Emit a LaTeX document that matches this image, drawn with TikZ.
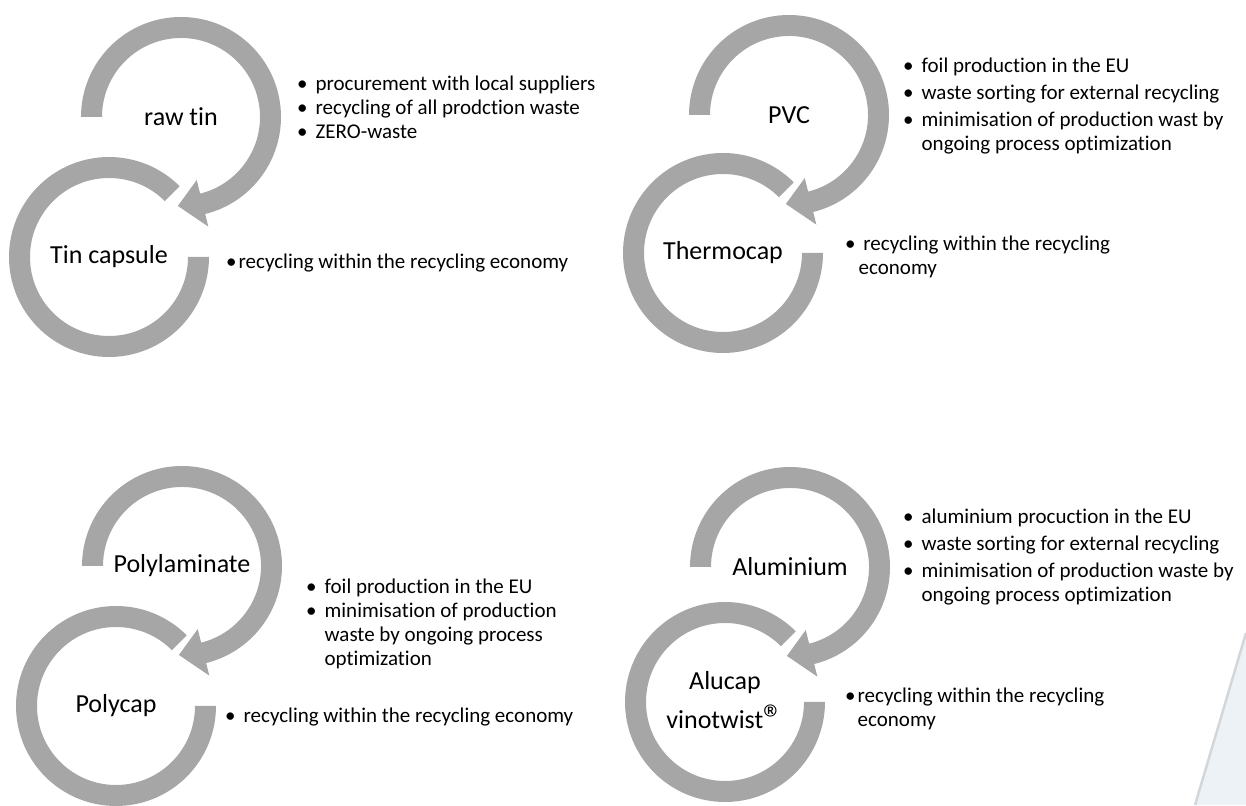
\documentclass[tikz,border=0pt]{standalone}
\usepackage{fontspec}
\setmainfont{Carlito}[Ligatures=NoCommon]
\usetikzlibrary{positioning}

\definecolor{ringgray}{HTML}{A6A6A6}
\definecolor{cornerblue}{HTML}{ECF2F6}
\definecolor{cornerline}{HTML}{D3D7DA}

% ring with arrow head around a label node
\newcommand{\toparc}[1]{%
  \fill[ring] ([shift={(180:100pt)}]#1.center) arc[start angle=180,end angle=-76,radius=100pt]
    -- ([shift={(-76:113pt)}]#1.center) -- ([shift={(-92:89pt)}]#1.center)
    -- ([shift={(-76:65pt)}]#1.center) -- ([shift={(-76:79pt)}]#1.center)
    arc[start angle=-76,end angle=180,radius=79pt] -- cycle;}
% open ring below
\newcommand{\bottomarc}[1]{%
  \fill[ring] ([shift={(45:100pt)}]#1.center) arc[start angle=45,end angle=360,radius=100pt]
    -- ([shift={(0:79pt)}]#1.center) arc[start angle=360,end angle=45,radius=79pt] -- cycle;}
\newcommand{\regmark}{\raisebox{-0.12em}{\fontsize{40}{40}\selectfont ®}}

\begin{document}
\begin{tikzpicture}[x=1pt,y=1pt,
    ring/.style={fill=ringgray},
    stage/.style={inner sep=0pt,align=center,font=\fontsize{26}{39}\selectfont},
    notes/.style={inner sep=0pt,anchor=base west,font=\fontsize{21}{24}\selectfont}]
  \useasboundingbox (0,0) rectangle (1246,805);

  % corner decoration
  \fill[cornerblue] (1246,172) -- (1195,0) -- (1246,0) -- cycle;
  \draw[cornerline,line width=2.5pt] (1246,172) -- (1195,0);

  % labels
  \node[stage] (rawtin) at (181,688) {raw tin};
  \node[stage] (tincap) at (109,548) {Tin capsule};
  \node[stage] (pvc) at (789,690) {PVC};
  \node[stage] (thermo) at (723,552) {Thermocap};
  \node[stage] (polylam) at (182,239) {Polylaminate};
  \node[stage] (polycap) at (116,99) {Polycap};
  \node[stage] (alu) at (790,238) {Aluminium};
  \node[stage] (alucap) at (725,103) {Alucap\\vinotwist\regmark};

  % rings
  \foreach \a/\b in {rawtin/tincap,pvc/thermo,polylam/polycap,alu/alucap}{
    \toparc{\a}
    \bottomarc{\b}
  }

  % notes
  \node[notes] (rawtinnotes) at (297,714) {\begin{tabular}[t]{@{}l@{\hspace{8pt}}l@{}}
    • & procurement with local suppliers\\
    • & recycling of all prodction waste\\
    • & ZERO-waste
  \end{tabular}};
  \node[notes] (tincapnotes) at (226,536) {•\hspace{2pt}recycling within the recycling economy};

  \node[notes] (pvcnotes) at (903,732) {\begin{tabular}[t]{@{}l@{\hspace{8pt}}l@{}}
    • & foil production in the EU\\[3pt]
    • & waste sorting for external recycling\\[3pt]
    • & minimisation of production wast by\\
      & ongoing process optimization
  \end{tabular}};
  \node[notes] (thermonotes) at (845,554) {\begin{tabular}[t]{@{}l@{\hspace{3pt}}l@{}}
    • & \ recycling within the recycling\\
      & economy
  \end{tabular}};

  \node[notes] (polylamnotes) at (306,211) {\begin{tabular}[t]{@{}l@{\hspace{8pt}}l@{}}
    • & foil production in the EU\\
    • & minimisation of production\\
      & waste by ongoing process\\
      & optimization
  \end{tabular}};
  \node[notes] (polycapnotes) at (225,82) {•\hspace{8pt}recycling within the recycling economy};

  \node[notes] (alunotes) at (903,281) {\begin{tabular}[t]{@{}l@{\hspace{8pt}}l@{}}
    • & aluminium procuction in the EU\\[3pt]
    • & waste sorting for external recycling\\[3pt]
    • & minimisation of production waste by\\
      & ongoing process optimization
  \end{tabular}};
  \node[notes] (alucapnotes) at (845,102) {\begin{tabular}[t]{@{}l@{\hspace{2pt}}l@{}}
    • & recycling within the recycling\\
      & economy
  \end{tabular}};
\end{tikzpicture}
\end{document}
